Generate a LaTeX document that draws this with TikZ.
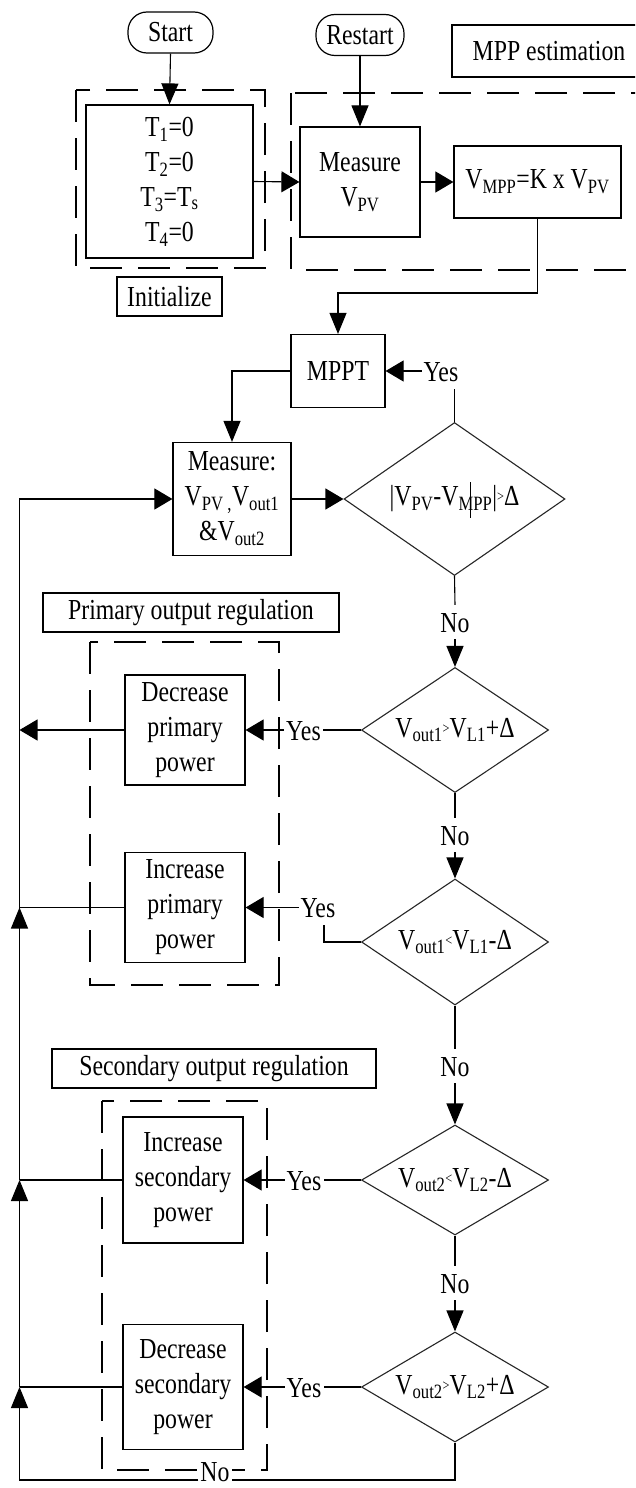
\documentclass[tikz,border=0pt]{standalone}
\usepackage{fontspec}
\setmainfont{Liberation Serif}[FakeStretch=0.82]
\usetikzlibrary{shapes.geometric,arrows.meta,calc}
\newcommand{\sbs}[1]{\textsubscript{#1}}
\newcommand{\smgt}{\raisebox{4pt}{\fontsize{15}{15}\selectfont >}}
\newcommand{\smlt}{\raisebox{4pt}{\fontsize{15}{15}\selectfont <}}
\begin{document}
\begin{tikzpicture}[x=1pt,y=-1pt,
  font=\fontsize{29}{35}\selectfont,
  every node/.style={inner sep=0pt},
  box/.style={draw,line width=1.2pt,align=center,fill=white},
  term/.style={draw,line width=1.2pt,rounded corners=19pt,minimum width=85pt,minimum height=41pt},
  lbl/.style={draw,line width=1.2pt,minimum height=39pt},
  dec/.style={draw=black!85,line width=1.1pt,diamond,shape aspect=1.7,inner sep=0pt},
  grp/.style={draw,line width=1.1pt,dash pattern=on 32pt off 16pt},
  ln/.style={line width=1.1pt},
  harr/.style={ln,-{Triangle[length=18pt,width=21pt]}},
  varr/.style={ln,-{Triangle[length=21pt,width=17pt]}},
  yesl/.style={inner sep=2pt,text height=20pt,text depth=0pt},
  nol/.style={inner sep=7pt,text height=20pt,text depth=0pt},
]
\clip (0,0) rectangle (635,1488);
\fill[white] (0,0) rectangle (635,1488);

% group frames
\draw[grp] (76,90) rectangle (265,268);
\draw[grp] (291,93) rectangle (660,270);
\draw[grp] (90,642) rectangle (279,985);
\draw[grp] (102,1101) rectangle (267,1470);

% nodes
\node[term] (start) at (170.5,32.5) {Start};
\node[term,minimum width=88pt] (restart) at (360,35) {Restart};
\node[draw,line width=1.2pt,minimum width=194pt,minimum height=52pt] (mppest) at (549,51) {MPP estimation};
\node[box,minimum width=167pt,minimum height=153pt] (tbox) at (169.5,181.5) {T\sbs{1}=0\\T\sbs{2}=0\\T\sbs{3}=T\sbs{s}\\T\sbs{4}=0};
\node[lbl,minimum width=105pt] (init) at (169.5,296.5) {Initialize};
\node[box,minimum width=120pt,minimum height=110pt] (meas1) at (360,182) {Measure\\V\sbs{PV}};
\node[box,minimum width=167pt,minimum height=72pt] (vmpp) at (537.5,182) {V\sbs{MPP}=K x V\sbs{PV}};
\node[box,minimum width=94pt,minimum height=73pt] (mppt) at (338,371) {MPPT};
\node[box,minimum width=118pt,minimum height=113pt] (meas2) at (232,499) {Measure:\\V\sbs{PV ,}V\sbs{out1}\\\&V\sbs{out2}};
\node[dec,minimum width=221pt,minimum height=153pt] (d1) at (454.5,499) {|V\sbs{PV}-V\sbs{MPP}|\smgt Δ};

\node[lbl,minimum width=296pt] (plbl) at (191,612.5) {Primary output regulation};
\node[box,minimum width=120pt,minimum height=110pt] (decp) at (185,730) {Decrease\\primary\\power};
\node[dec,minimum width=187pt,minimum height=125pt] (d2) at (455,730) {V\sbs{out1}\smgt V\sbs{L1}+Δ};
\node[box,minimum width=120pt,minimum height=110pt] (incp) at (185,907.5) {Increase\\primary\\power};
\node[dec,minimum width=187pt,minimum height=126pt] (d3) at (455,942) {V\sbs{out1}\smlt V\sbs{L1}-Δ};

\node[lbl,minimum width=324pt] (slbl) at (214,1068.5) {Secondary output regulation};
\node[box,minimum width=120pt,minimum height=126pt] (incs) at (183,1180) {Increase\\secondary\\power};
\node[dec,minimum width=187pt,minimum height=110pt] (d4) at (455,1180) {V\sbs{out2}\smlt V\sbs{L2}-Δ};
\node[box,minimum width=120pt,minimum height=125pt] (decs) at (183,1387) {Decrease\\secondary\\power};
\node[dec,minimum width=187pt,minimum height=110pt] (d5) at (455,1387) {V\sbs{out2}\smgt V\sbs{L2}+Δ};

% labels
\node[yesl] (yes1) at (441,371) {Yes};
\node[nol] (no1) at (455,622) {No};
\node[yesl] (yes2) at (303.5,730) {Yes};
\node[nol] (no2) at (455,835) {No};
\node[yesl] (yes3) at (318,907.5) {Yes};
\node[nol] (no3) at (455,1066) {No};
\node[yesl] (yes4) at (304,1180) {Yes};
\node[nol] (no4) at (455,1283) {No};
\node[yesl] (yes5) at (304,1387) {Yes};
\node[yesl,fill=white] (no5) at (215,1471) {No};

% helper coordinates
\coordinate (lx) at (19.5,0);
\coordinate (bend1) at (537.5,293);
\coordinate (y1top) at (454.5,389);
\coordinate (y3) at (324,925);
\coordinate (bot) at (455,1480);

% connectors
\draw[varr] (start.south) -- (tbox.north);
\draw[varr] (restart.south) -- (meas1.north);
\draw[harr] (tbox.east) -- (meas1.west);
\draw[harr] (meas1.east) -- (vmpp.west);
\draw[varr] (vmpp.south) -- (bend1) -| (mppt.north);
\draw[ln] (d1.north) -- (y1top);
\draw[harr] (yes1.west) -- (mppt.east);
\draw[varr] (mppt.west) -| (meas2.north);
\draw[harr] (meas2.east) -- (d1.west);
\draw[ln] (d1.south) -- (no1.north);
\draw[varr] (no1.south) -- (d2.north);
\draw[ln] (d2.west) -- (yes2.east);
\draw[harr] (yes2.west) -- (decp.east);
\draw[harr] (decp.west) -- (decp.west -| lx);
\draw[ln] (d2.south) -- (no2.north);
\draw[varr] (no2.south) -- (d3.north);
\draw[ln] (d3.west) -| (y3);
\draw[harr] (yes3.west) -- (incp.east);
\draw[ln] (incp.west) -- (incp.west -| lx);
\draw[ln] (d3.south) -- (no3.north);
\draw[varr] (no3.south) -- (d4.north);
\draw[ln] (d4.west) -- (yes4.east);
\draw[harr] (yes4.west) -- (incs.east);
\draw[ln] (incs.west) -- (incs.west -| lx);
\draw[ln] (d4.south) -- (no4.north);
\draw[varr] (no4.south) -- (d5.north);
\draw[ln] (d5.west) -- (yes5.east);
\draw[harr] (yes5.west) -- (decs.east);
\draw[ln] (decs.west) -- (decs.west -| lx);
% return loop
\draw[ln] (d5.south) -- (bot) -- (bot -| no5.east);
\draw[varr] (bot -| no5.west) -- (bot -| lx) -- (decs.west -| lx);
\draw[varr] (decs.west -| lx) -- (incs.west -| lx);
\draw[varr] (incs.west -| lx) -- (incp.west -| lx);
\draw[harr] (incp.west -| lx) -- (meas2.west -| lx) -- (meas2.west);
% stray mark in first decision
\draw[line width=1pt] (470.5,482) -- (470.5,518);
\end{tikzpicture}
\end{document}
